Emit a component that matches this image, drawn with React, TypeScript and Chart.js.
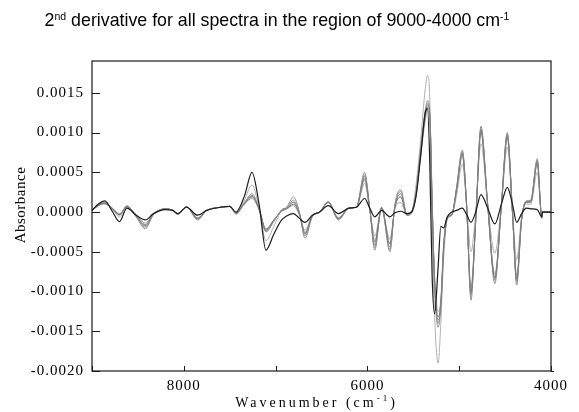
import React, { useEffect, useRef } from "react";
import { Chart, registerables } from "chart.js";

Chart.register(...registerables);

// Values are given in units of 1e-5 absorbance (2nd derivative)
const UNIT = 1e-5;

const wavenumbers = [
  9000, 8930, 8860, 8780, 8700, 8620, 8520, 8420, 8330, 8200, 8120, 8065, 7970, 7850, 7750, 7600, 7500, 7430,
  7340, 7257, 7180, 7105, 7020, 6934, 6880, 6806, 6740, 6680, 6600, 6520, 6426, 6316, 6200, 6120, 6030, 5975,
  5920, 5845, 5755, 5700, 5636, 5570, 5520, 5470, 5420, 5370, 5345, 5320, 5295, 5268, 5230, 5200, 5170, 5130,
  5080, 5030, 4966, 4920, 4872, 4820, 4763, 4690, 4612, 4540, 4476, 4420, 4374, 4320, 4270, 4220, 4150, 4100,
  4095, 4000,
];

const spectrumDark = [
  2, 10, 14, 1, -12, 5, -4, -10, -2, 3, 2, -2, 6, -4, 2, 6, 7, 0,
  20, 50, 10, -48, -28, -10, -5, -2, -8, -13, -4, 0, 8, -2, 5, 6, 17, 5,
  -6, 2, -6, -1, 1, -2, 0, 20, 70, 125, 130, 60, -80, -128, -70, -18, -20, -6,
  0, 2, 5, -3, -13, 0, 22, 5, -15, 10, 31, 10, -13, -2, 5, 4, 3, -6,
  0, 0,
];

const spectrumGrey1 = [
  2, 9, 12, 4, -4, 8, -6, -21, -3, 4, 2, -3, 7, -10, 2, 6, 7, -2,
  12, 23, 4, -25, -12, 3, 6, 19, 0, -33, -6, 0, 13, -10, 5, 6, 50, 5,
  -48, 6, -50, 10, 28, -3, 0, 25, 80, 128, 140, 125, 20, -90, -145, -120, -50, -8,
  -4, 30, 78, 10, -111, -10, 108, 10, -90, 10, 100, 0, -92, -10, 14, 15, 67, -8,
  0, 0,
];

const spectrumGrey2 = [
  2, 9, 11, 4, -3, 7, -5, -19, -3, 4, 2, -3, 7, -9, 2, 6, 7, -2,
  11, 21, 4, -24, -11, 2, 5, 15, -2, -30, -5, 0, 13, -9, 5, 6, 47, 5,
  -45, 6, -47, 8, 26, -3, 0, 24, 78, 125, 137, 122, 15, -92, -140, -118, -48, -8,
  -4, 29, 76, 10, -105, -10, 105, 10, -86, 10, 98, 0, -88, -9, 13, 14, 65, -7,
  0, 0,
];

const spectrumGrey3 = [
  2, 8, 11, 5, -3, 7, -4, -16, -2, 4, 2, -2, 6, -8, 2, 6, 7, -1,
  10, 19, 3, -22, -10, 1, 4, 10, -3, -26, -5, 0, 12, -8, 5, 6, 42, 4,
  -38, 5, -40, 6, 19, -4, -1, 22, 74, 120, 132, 120, 8, -85, -132, -114, -45, -7,
  -3, 27, 73, 9, -100, -10, 102, 9, -82, 9, 95, 0, -84, -9, 12, 13, 62, -7,
  0, 0,
];

const spectrumGrey4 = [
  2, 8, 10, 5, -2, 6, -3, -14, -2, 4, 2, -2, 6, -7, 2, 6, 7, -1,
  10, 17, 3, -21, -10, 1, 4, 8, -4, -23, -4, 0, 12, -7, 5, 6, 36, 3,
  -30, 4, -34, 4, 12, -4, -2, 20, 70, 115, 128, 118, 0, -80, -125, -110, -40, -6,
  -3, 25, 70, 8, -94, -10, 100, 8, -78, 8, 93, 0, -80, -8, 12, 12, 60, -6,
  0, 0,
];

const spectrumGrey5 = [
  2, 9, 11, 4, -3, 7, -5, -17, -3, 4, 2, -2, 7, -8, 2, 6, 7, -1,
  11, 20, 4, -23, -11, 2, 5, 12, -2, -28, -5, 0, 12, -8, 5, 6, 45, 5,
  -42, 5, -44, 7, 23, -3, 0, 23, 76, 123, 135, 121, 12, -88, -136, -116, -46, -7,
  -3, 28, 75, 9, -103, -10, 104, 9, -84, 9, 97, 0, -86, -9, 13, 14, 64, -7,
  0, 0,
];

const spectrumLight = [
  2, 8, 11, 3, -6, 7, -5, -18, -3, 4, 2, -3, 6, -8, 2, 6, 7, -3,
  15, 34, 5, -36, -18, 2, 5, 13, -3, -28, -5, 0, 13, -9, 5, 6, 40, 4,
  -36, 5, -40, 6, 19, -4, -1, 35, 90, 155, 172, 140, -20, -130, -190, -140, -60, -10,
  -4, 20, 60, 12, -50, 0, 86, 10, -52, 10, 82, 5, -60, -6, 10, 10, 50, -5,
  0, 0,
];

const xLabelled = [8000, 6000, 4000];

const TITLE_MAIN = "2";
const TITLE_SUP1 = "nd";
const TITLE_REST = " derivative for all spectra in the region of 9000-4000 cm";
const TITLE_SUP2 = "-1";
const X_TITLE = "Wavenumber (cm";
const X_TITLE_SUP = "-1";
const X_TITLE_END = ")";
const Y_TITLE = "Absorbance";

const SANS = '"Liberation Sans", Arial, sans-serif';
const SERIF = '"Liberation Serif", "Times New Roman", serif';

const framePlugin = {
  id: "frameAndTitles",
  beforeDraw(chart: any) {
    chart.ctx.letterSpacing = "1px";
  },
  afterDraw(chart: any) {
    const { ctx, chartArea: a, scales } = chart;
    ctx.save();
    ctx.letterSpacing = "0px";
    // frame
    ctx.strokeStyle = "#1a1a1a";
    ctx.lineWidth = 1.2;
    ctx.strokeRect(a.left, a.top, a.right - a.left, a.bottom - a.top);
    // tick marks
    ctx.lineWidth = 1;
    ctx.beginPath();
    for (const t of scales.y.ticks) {
      const py = Math.round(scales.y.getPixelForValue(t.value)) + 0.5;
      ctx.moveTo(a.left, py);
      ctx.lineTo(a.left + 8, py);
      ctx.moveTo(a.right, py);
      ctx.lineTo(a.right + 3, py);
    }
    for (const t of scales.x.ticks) {
      const px = Math.round(scales.x.getPixelForValue(t.value)) + 0.5;
      ctx.moveTo(px, a.bottom);
      ctx.lineTo(px, a.bottom - 5);
    }
    ctx.stroke();

    ctx.fillStyle = "#000";
    ctx.textAlign = "left";
    ctx.textBaseline = "alphabetic";

    // main title with superscripts
    const big = `17.8px ${SANS}`;
    const small = `10.5px ${SANS}`;
    ctx.font = big;
    const w1 = ctx.measureText(TITLE_MAIN).width;
    const w3 = ctx.measureText(TITLE_REST).width;
    ctx.font = small;
    const w2 = ctx.measureText(TITLE_SUP1).width;
    const w4 = ctx.measureText(TITLE_SUP2).width;
    let x = 277 - (w1 + w2 + w3 + w4) / 2;
    ctx.font = big;
    ctx.fillText(TITLE_MAIN, x, 26);
    x += w1;
    ctx.font = small;
    ctx.fillText(TITLE_SUP1, x, 20);
    x += w2;
    ctx.font = big;
    ctx.fillText(TITLE_REST, x, 26);
    x += w3;
    ctx.font = small;
    ctx.fillText(TITLE_SUP2, x, 19.5);

    // x axis title
    ctx.letterSpacing = "3px";
    const xf = `14px ${SERIF}`;
    const xs = `9px ${SERIF}`;
    ctx.font = xf;
    const a1 = ctx.measureText(X_TITLE).width;
    const a3 = ctx.measureText(X_TITLE_END).width;
    ctx.font = xs;
    const a2 = ctx.measureText(X_TITLE_SUP).width;
    let xx = 316.5 - (a1 + a2 + a3) / 2;
    ctx.font = xf;
    ctx.fillText(X_TITLE, xx, 407);
    xx += a1;
    ctx.font = xs;
    ctx.fillText(X_TITLE_SUP, xx, 401);
    xx += a2;
    ctx.font = xf;
    ctx.fillText(X_TITLE_END, xx, 407);

    // y axis title
    ctx.letterSpacing = "0.5px";
    ctx.font = `15px ${SERIF}`;
    ctx.translate(25, 205);
    ctx.rotate(-Math.PI / 2);
    ctx.textAlign = "center";
    ctx.fillText(Y_TITLE, 0, 0);
    ctx.restore();
    ctx.letterSpacing = "0px";
  },
};

export default function App() {
  const ref = useRef<HTMLCanvasElement>(null);

  useEffect(() => {
    const canvas = ref.current;
    if (!canvas) return;
    const toPoints = (vals: number[]) => wavenumbers.map((w, i) => ({ x: w, y: vals[i] * UNIT }));
    const series = [
      { label: "Spectrum A", values: spectrumDark, color: "#1c1c1c", width: 1.2 },
      { label: "Spectrum B", values: spectrumGrey3, color: "#7c7c7c", width: 1 },
      { label: "Spectrum C", values: spectrumGrey1, color: "#8e8e8e", width: 1 },
      { label: "Spectrum D", values: spectrumGrey5, color: "#858585", width: 1 },
      { label: "Spectrum E", values: spectrumGrey2, color: "#9a9a9a", width: 1 },
      { label: "Spectrum F", values: spectrumGrey4, color: "#a4a4a4", width: 1 },
      { label: "Spectrum G", values: spectrumLight, color: "#b0b0b0", width: 1 },
    ];
    const chart = new Chart(canvas, {
      type: "line",
      data: {
        datasets: series.map((s) => ({
          label: s.label,
          data: toPoints(s.values),
          borderColor: s.color,
          borderWidth: s.width,
          pointRadius: 0,
          cubicInterpolationMode: "monotone" as const,
          fill: false,
        })),
      },
      options: {
        animation: false,
        responsive: false,
        events: [],
        layout: { padding: { top: 61, right: 28, left: 0, bottom: 0 } },
        plugins: {
          legend: { display: false },
          title: { display: false },
          tooltip: { enabled: false },
        },
        scales: {
          x: {
            type: "linear",
            min: 4000,
            max: 9000,
            reverse: true,
            border: { display: false },
            grid: { display: false, drawTicks: false },
            ticks: {
              stepSize: 1000,
              autoSkip: false,
              maxRotation: 0,
              padding: 6,
              color: "#000",
              font: { family: SERIF, size: 15 },
              callback: (v: any) => (xLabelled.some((l) => Math.abs(l - Number(v)) < 0.5) ? String(Math.round(Number(v))) : ""),
            },
            afterFit: (s: any) => {
              s.height = 41;
            },
          },
          y: {
            type: "linear",
            min: -0.002,
            max: 0.0019,
            border: { display: false },
            grid: { display: false, drawTicks: false },
            ticks: {
              stepSize: 0.0005,
              includeBounds: false,
              autoSkip: false,
              padding: 8,
              color: "#000",
              font: { family: SERIF, size: 15 },
              callback: (v: any) => Number(v).toFixed(4),
            },
            afterFit: (s: any) => {
              s.width = 92;
            },
          },
        },
      },
      plugins: [framePlugin],
    });
    return () => chart.destroy();
  }, []);

  return (
    <div style={{ position: "absolute", left: 0, top: 0, width: 579, height: 412, background: "#fff" }}>
      <canvas ref={ref} width={579} height={412} style={{ display: "block" }} />
    </div>
  );
}
